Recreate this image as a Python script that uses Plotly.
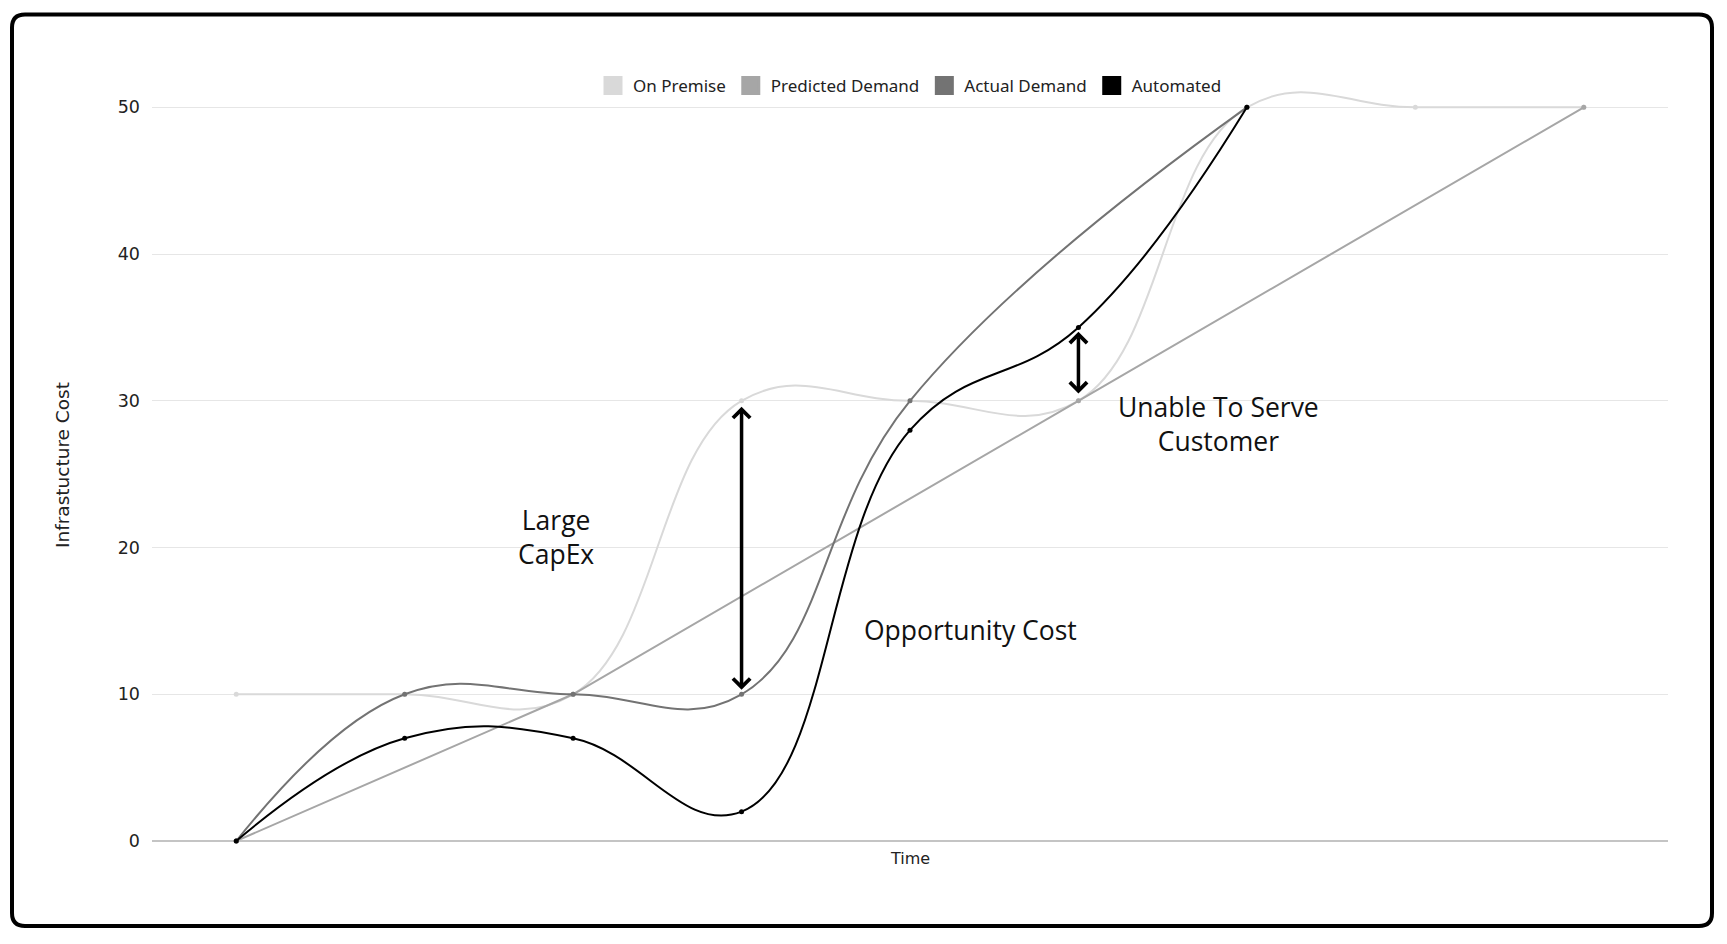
import plotly.graph_objects as go

# ---------------- data ----------------
time_index = [0, 1, 2, 3, 4, 5, 6, 7, 8]
on_premise = [10, 10, 10, 30, 30, 30, 50, 50, 50]
predicted_demand = [0, None, 10, None, None, 30, None, None, 50]
actual_demand = [0, 10, 10, 10, 30, None, 50, None, None]
automated = [0, 7, 7, 2, 28, 35, 50, None, None]
series_names = ["On Premise", "Predicted Demand", "Actual Demand", "Automated"]
y_ticks = [0, 10, 20, 30, 40, 50]

# gap arrows: (time index, from value, to value)
capex_arrow = (3, 10.2, 29.6)
serve_arrow = (5, 30.4, 34.7)

# text labels: (text, time index, value)
labels = [
    ("Large<br>CapEx", 1.9, 20.7),
    ("Opportunity Cost", 4.36, 14.4),
    ("Unable To Serve<br>Customer", 5.83, 28.4),
]

# ---------------- style ----------------
COLORS = ["#d9d9d9", "#a6a6a6", "#737373", "#000000"]
SHAPES = ["spline", "linear", "spline", "spline"]
FIG_W, FIG_H = 1727, 944
ML, MR, MT, MB = 152, 59, 78, 103
PW, PH = FIG_W - ML - MR, FIG_H - MT - MB


def px_x(px):
    return (px - ML) / PW


def px_y(py):
    return 1 - (py - MT) / PH


fig = go.Figure()
series = [on_premise, predicted_demand, actual_demand, automated]
for name, vals, col, shp in zip(series_names, series, COLORS, SHAPES):
    fig.add_trace(go.Scatter(
        x=time_index, y=vals, name=name, mode="lines+markers",
        line=dict(color=col, width=2, shape=shp, smoothing=1.2),
        marker=dict(color=col, size=5),
        connectgaps=True, showlegend=False, cliponaxis=False,
        hoverinfo="skip",
    ))

# legend entries with square swatches
for name, col in zip(series_names, COLORS):
    fig.add_trace(go.Scatter(
        x=[None], y=[None], name=name, mode="markers",
        marker=dict(color=col, size=16, symbol="square",
                    line=dict(color=col, width=3)),
        showlegend=True,
    ))

annotations = []
for (xi, y0, y1) in [capex_arrow, serve_arrow]:
    annotations.append(dict(
        x=xi, y=y1, ax=xi, ay=y0, xref="x", yref="y", axref="x", ayref="y",
        text="", showarrow=True, arrowhead=4, startarrowhead=4,
        arrowside="end+start", arrowwidth=3.5, arrowsize=0.95, startarrowsize=0.95,
        arrowcolor="#000000",
    ))
for (txt, xi, yv) in labels:
    annotations.append(dict(
        x=xi, y=yv, xref="x", yref="y", text=txt, showarrow=False,
        font=dict(family="Open Sans", size=26.5, color="#111111"),
        align="center",
    ))

# axis titles
annotations.append(dict(
    x=px_x(62), y=px_y(465), xref="paper", yref="paper",
    text="Infrastucture Cost", textangle=-90, showarrow=False,
    font=dict(family="DejaVu Sans", size=18.5, color="#222222"),
    xanchor="center", yanchor="middle",
))
annotations.append(dict(
    x=0.5, y=px_y(858), xref="paper", yref="paper",
    text="Time", showarrow=False,
    font=dict(family="DejaVu Sans", size=16, color="#222222"),
    xanchor="center", yanchor="middle",
))

# rounded frame
x0, x1, y0, y1, r = 12, 1712, 14.5, 926, 13
pts = [
    ("M", (x0 + r, y0)), ("L", (x1 - r, y0)), ("Q", (x1, y0), (x1, y0 + r)),
    ("L", (x1, y1 - r)), ("Q", (x1, y1), (x1 - r, y1)), ("L", (x0 + r, y1)),
    ("Q", (x0, y1), (x0, y1 - r)), ("L", (x0, y0 + r)), ("Q", (x0, y0), (x0 + r, y0)),
]
path = ""
for cmd, *coords in pts:
    path += cmd + " " + " ".join(f"{px_x(a):.6f},{px_y(b):.6f}" for a, b in coords) + " "
path += "Z"

fig.update_layout(
    width=FIG_W, height=FIG_H,
    margin=dict(l=ML, r=MR, t=MT, b=MB, autoexpand=False),
    paper_bgcolor="white", plot_bgcolor="white",
    font=dict(family="Noto Sans", color="#222222"),
    xaxis=dict(
        range=[-0.5, 8.5], showticklabels=False, showgrid=False,
        zeroline=False, showline=False, fixedrange=True,
    ),
    yaxis=dict(
        range=[0, 52], tickvals=y_ticks, showgrid=True, gridcolor="#e6e6e6",
        gridwidth=1, zeroline=True, zerolinecolor="#c4c4c4", zerolinewidth=1.5,
        showline=False, tickfont=dict(family="DejaVu Sans", size=17.5, color="#222222"),
        ticklabelstandoff=11, fixedrange=True, automargin=False,
    ),
    legend=dict(
        orientation="h", x=0.5, xanchor="center", xref="paper",
        y=px_y(86), yanchor="middle", yref="paper",
        font=dict(family="Noto Sans", size=17, color="#222222"),
        bgcolor="rgba(0,0,0,0)", itemclick=False, itemdoubleclick=False,
    ),
    annotations=annotations,
    shapes=[dict(type="path", path=path, xref="paper", yref="paper",
                 line=dict(color="#000000", width=4), fillcolor="rgba(0,0,0,0)",
                 layer="above")],
    showlegend=True,
)

fig.write_html("out.html", config={"displayModeBar": False})
